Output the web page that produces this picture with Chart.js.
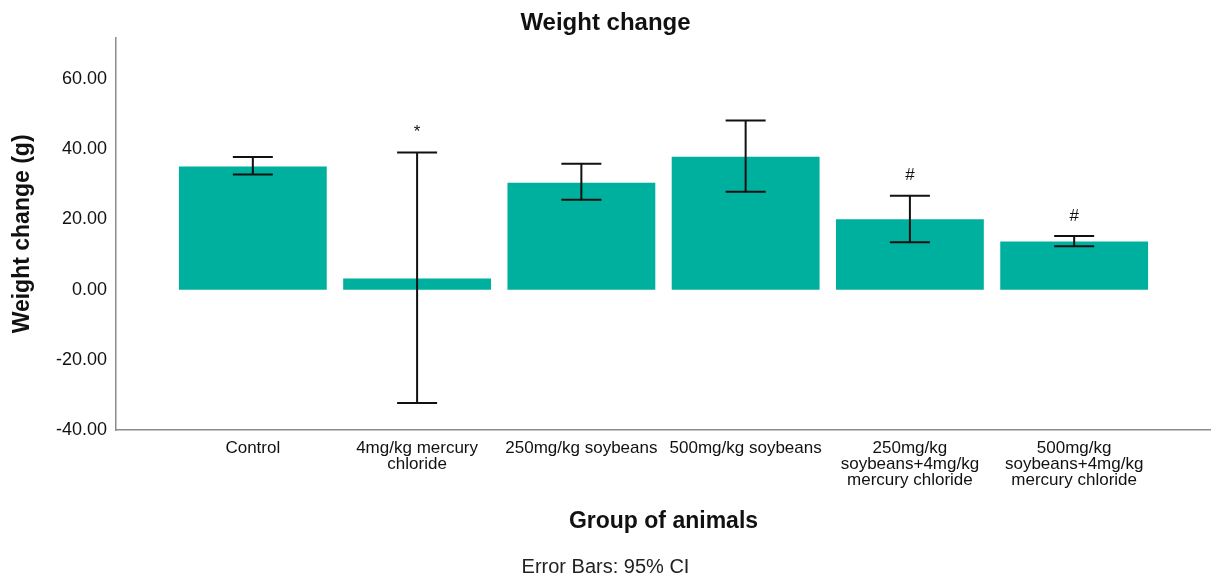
<!DOCTYPE html>
<html>
<head>
<meta charset="utf-8">
<script src="https://cdn.jsdelivr.net/npm/chart.js@4"></script>
<style>
  html, body { margin: 0; padding: 0; background: #fff; }
  #wrap { width: 1211px; height: 581px; }
</style>
</head>
<body>
<div id="wrap"><canvas id="myChart"></canvas></div>
<script>
// group names (multi-line where the original wraps)
const categories = [
  'Control',
  ['4mg/kg mercury', 'chloride'],
  '250mg/kg soybeans',
  '500mg/kg soybeans',
  ['250mg/kg', 'soybeans+4mg/kg', 'mercury chloride'],
  ['500mg/kg', 'soybeans+4mg/kg', 'mercury chloride']
];
// mean weight change (g)
const means = [35.1, 3.2, 30.5, 37.9, 20.1, 13.7];
// 95% CI limits
const ciLow = [32.8, -32.3, 25.6, 27.9, 13.5, 12.4];
const ciHigh = [37.8, 39.1, 35.9, 48.2, 26.8, 15.3];
// significance marks above the error bars
const marks = ['', '*', '', '', '#', '#'];
const yTicks = [-40, -20, 0, 20, 40, 60];

const FONT = "'Liberation Sans', Arial, Helvetica, sans-serif";

// error bars + marks drawn against the chart scales
const errorBars = {
  id: 'errorBars',
  afterDatasetsDraw(chart) {
    const c = chart.ctx;
    const xs = chart.scales.x;
    const ys = chart.scales.y;
    c.save();
    c.strokeStyle = '#111';
    c.lineWidth = 2;
    for (let i = 0; i < means.length; i++) {
      const x = xs.getPixelForValue(i);
      const yHi = ys.getPixelForValue(ciHigh[i]);
      const yLo = ys.getPixelForValue(ciLow[i]);
      c.beginPath();
      c.moveTo(x, yHi); c.lineTo(x, yLo);
      c.moveTo(x - 20, yHi); c.lineTo(x + 20, yHi);
      c.moveTo(x - 20, yLo); c.lineTo(x + 20, yLo);
      c.stroke();
      if (marks[i]) {
        c.fillStyle = '#111';
        c.font = '17px ' + FONT;
        c.textAlign = 'center';
        c.textBaseline = 'middle';
        c.fillText(marks[i], x, yHi - 20);
      }
    }
    c.restore();
  }
};

const ctx = document.getElementById('myChart').getContext('2d');

const myChart = new Chart(ctx, {
  type: 'bar',
  data: {
    datasets: [{
      label: 'Weight change',
      data: means.map((v, i) => ({ x: i, y: v })),
      backgroundColor: '#00b09f',
      borderWidth: 0,
      barPercentage: 0.9,
      categoryPercentage: 1.0
    }]
  },
  options: {
    responsive: true,
    maintainAspectRatio: false,
    animation: false,
    layout: { padding: 0 },
    plugins: {
      legend: { display: false },
      tooltip: { enabled: false },
      title: {
        display: true,
        text: 'Weight change',
        color: '#111',
        font: { family: FONT, size: 24, weight: 'bold', lineHeight: 1.2 },
        padding: { top: 9, bottom: 0 }
      },
      subtitle: {
        display: true,
        position: 'bottom',
        text: 'Error Bars: 95% CI',
        color: '#222',
        font: { family: FONT, size: 20, lineHeight: 1.2 },
        padding: { top: 0, bottom: 2 }
      }
    },
    scales: {
      x: {
        type: 'linear',
        offset: false,
        min: -0.833,
        max: 5.833,
        grid: { display: false, drawTicks: false },
        border: { display: true, color: '#8c8c8c', width: 1.5 },
        afterBuildTicks: (scale) => {
          scale.ticks = categories.map((_, i) => ({ value: i }));
        },
        afterFit: (scale) => { scale.height = 125; },
        ticks: {
          autoSkip: false,
          maxRotation: 0,
          padding: 10,
          color: '#111',
          font: { family: FONT, size: 17, lineHeight: 0.95 },
          callback: (value) => categories[value]
        },
        title: {
          display: true,
          text: 'Group of animals',
          color: '#111',
          font: { family: FONT, size: 23, weight: 'bold', lineHeight: 1.2 },
          padding: { top: 0, bottom: 20 }
        }
      },
      y: {
        min: -40,
        max: 71.8,
        grid: { display: false, drawTicks: false },
        border: { display: true, color: '#8c8c8c', width: 1.5 },
        afterBuildTicks: (scale) => {
          scale.ticks = yTicks.map(v => ({ value: v }));
        },
        afterFit: (scale) => { scale.width = 116; },
        ticks: {
          padding: 9,
          color: '#111',
          font: { family: FONT, size: 18 },
          callback: (value) => value.toFixed(2)
        },
        title: {
          display: true,
          text: 'Weight change (g)',
          color: '#111',
          font: { family: FONT, size: 23, weight: 'bold', lineHeight: 1.2 },
          padding: { top: 9, bottom: 0 }
        }
      }
    }
  },
  plugins: [errorBars]
});
</script>
</body>
</html>
